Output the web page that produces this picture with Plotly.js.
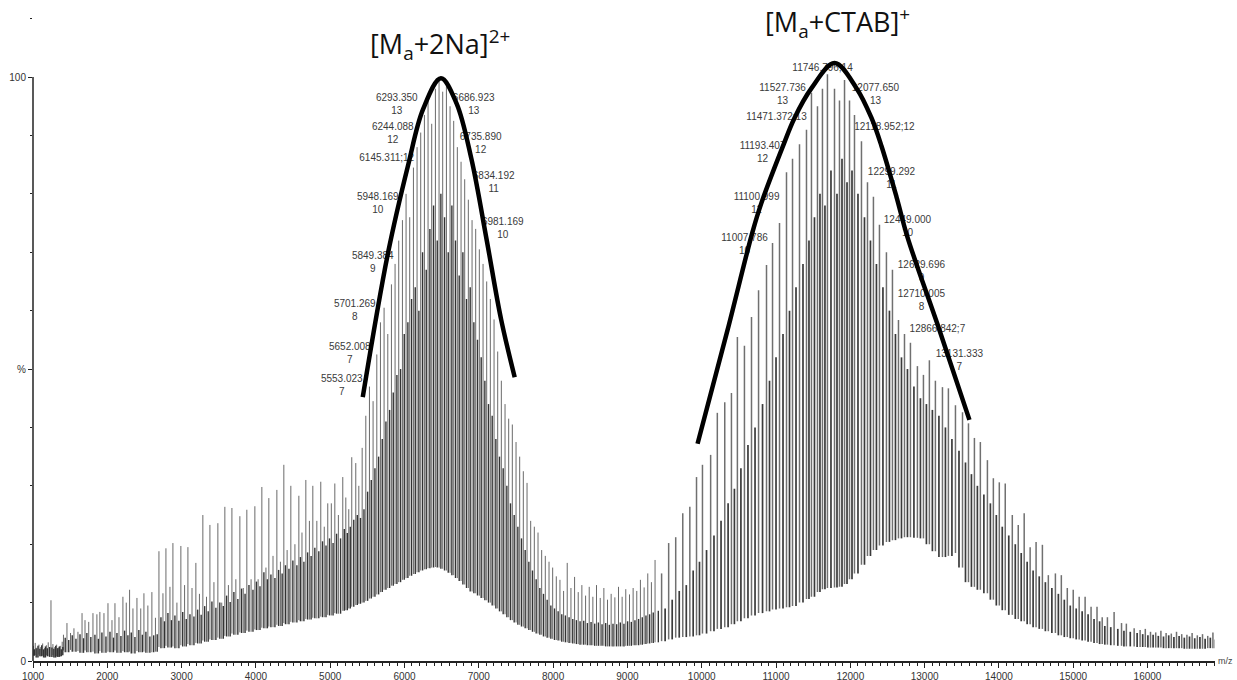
<!DOCTYPE html>
<html>
<head>
<meta charset="utf-8">
<script src="https://cdn.plot.ly/plotly-3.0.1.min.js"></script>
<style>html,body{margin:0;padding:0;background:#fff;}#chart{width:1237px;height:680px;}</style>
</head>
<body>
<div id="chart"></div>
<script>
// ---- spectrum data (m/z, tall stick top %, secondary stick top %, valley %) ----
const mzNoise   = [1005,1030,1055,1080,1105,1130,1155,1180,1205,1242,1268,1293,1318,1343,1368,1393];
const topNoise  = [2.6,3.1,2.3,2.8,2.4,3.0,2.2,2.7,3.2,10.4,2.9,2.4,2.8,2.3,2.6,3.3];
const darkNoise = [2.0,2.2,2.6,2.1,2.7,2.0,2.5,2.2,2.4,2.3,2.1,2.6,2.2,2.5,2.0,2.4];
const lowNoise  = [0.9,1.0,0.6,1.1,0.8,0.9,0.6,1.0,0.8,0.7,1.0,0.6,0.8,0.7,0.8,1.0];

const mzRiseA   = [1410,1457,1505,1551,1605,1660,1700,1750,1807,1860,1900,1955,2009,2063,2103,2157,2210,2255,2300,2345,2399,2450,2493,2546,2600,2648];
const topRiseA  = [4.5,6.5,4.8,5.6,5.0,8.2,7.0,6.7,8.2,8.0,8.4,8.2,9.9,7.0,9.9,7.5,11.0,10.0,12.2,9.0,10.8,9.0,11.6,9.5,11.8,7.4];
const darkRiseA = [4.0,3.6,4.4,3.8,4.6,3.9,4.8,4.1,4.5,3.8,4.9,4.2,5.0,4.0,4.8,4.3,5.2,4.4,4.9,4.1,5.3,4.5,5.0,4.2,4.4,4.6];
const lowRiseA  = [1.8,1.5,1.9,1.6,1.7,1.4,1.8,1.5,1.6,1.3,1.7,1.4,1.6,1.5,1.8,1.4,1.7,1.5,1.6,1.3,1.7,1.5,1.6,1.4,1.5,1.6];

const mzRiseB   = [2695,2749,2789,2843,2883,2937,2990,3040,3085,3140,3192,3240,3286,3335,3381,3435,3488,3540,3582,3630,3677,3730,3784,3830,3878,3935,3986,4030,4080,4135,4174,4230,4282,4330,4376,4420,4470,4525,4578,4620,4672,4720,4766,4820,4873,4920,4967,5015,5062,5110,5169,5210,5250,5290,5344,5385];
const topRiseB  = [18.8,11.6,19.3,12.7,20.2,10.0,19.7,13.0,19.5,12.5,16.8,11.5,25.0,11.0,23.3,13.5,23.6,10.0,26.4,13.0,26.2,14.0,24.8,12.5,25.9,14.0,26.5,14.0,29.8,16.0,27.9,18.0,29.3,17.0,33.6,19.0,30.0,20.0,28.3,22.0,31.0,24.0,30.0,24.0,30.7,23.0,27.0,27.0,30.4,25.0,31.5,28.0,26.0,34.9,33.9,30.0];
const darkRiseB = [7.5,6.8,8.2,7.0,7.8,6.9,8.4,7.2,8.0,7.6,8.8,7.9,9.4,8.5,10.2,9.1,10.0,9.4,11.2,10.1,11.8,10.6,12.4,11.5,13.0,12.2,13.6,12.8,15.2,14.0,14.8,14.2,15.6,15.0,16.4,15.8,17.2,16.4,17.8,17.0,18.6,18.0,19.4,18.8,20.5,19.8,21.0,20.2,21.8,21.0,22.6,21.9,23.0,24.2,25.0,24.5];
const lowRiseB  = [2.4,2.2,2.6,2.3,2.5,2.2,2.7,2.5,2.9,2.7,3.1,3.0,3.5,3.3,3.7,3.6,4.0,3.8,4.3,4.2,4.7,4.5,4.9,4.8,5.2,5.0,5.4,5.3,5.7,5.6,5.9,5.8,6.2,6.0,6.5,6.3,6.7,6.6,7.0,6.8,7.2,7.1,7.4,7.3,7.6,7.5,7.9,7.8,8.2,8.1,8.6,8.7,9.0,9.3,9.6,9.8];

const mzCore1   = [5430,5479,5528,5577,5627,5676,5725,5775,5824,5873,5922,5972,6021,6070,6120,6169,6218,6268,6317,6366,6416,6465,6514,6564,6613,6662,6711,6761,6810,6859,6909,6958,7007,7057,7106,7155,7205,7254,7303,7353,7402,7451,7501,7550,7599,7649,7698,7747,7797,7846,7895,7945,7994];
const topCore1  = [36.5,42.0,47.0,44.5,52.5,58.0,60.5,56.0,64.5,68.0,72.0,75.5,80.0,76.0,84.5,88.0,90.5,93.5,96.0,92.0,98.0,100.0,97.5,99.0,95.0,92.5,88.0,85.5,82.5,79.0,75.5,74.0,70.5,68.0,65.0,62.0,58.5,53.0,48.0,44.0,41.5,40.5,37.5,35.0,32.5,30.5,24.0,23.0,22.0,19.0,18.0,17.0,16.0];
const darkCore1 = [26,29,31,33,35,38,41,43,46,49,50,56,58,62,64,60,70,67,74,78,72,80,76,70,78,72,66,70,62,64,58,55,52,48,44,42,38,35,33,30,27,25,23,21,19,17,15.5,14,12.5,11.5,10.5,9.5,9.0];
const lowCore1  = [10.0,10.3,10.7,11.0,11.4,11.8,12.2,12.5,12.9,13.2,13.5,13.9,14.2,14.6,14.9,15.2,15.5,15.7,15.9,16.0,16.1,16.0,15.8,15.5,15.1,14.7,14.2,13.7,13.1,12.5,11.9,11.6,11.2,10.8,10.4,10.0,9.5,9.0,8.5,8.0,7.5,7.0,6.6,6.2,5.9,5.6,5.3,5.0,4.7,4.5,4.2,4.0,3.8];

const mzGap     = [8043,8092,8141,8190,8240,8289,8338,8387,8437,8486,8535,8584,8634,8683,8732,8781,8831,8880,8929,8978,9028,9077,9126,9175,9225,9274,9323,9372];
const topGap    = [14.5,13.9,12.0,16.8,12.5,14.4,11.8,13.0,11.2,12.7,11.0,13.0,10.8,12.5,10.5,11.5,10.9,12.7,11.0,12.3,11.4,12.5,12.0,13.9,12.6,15.0,13.5,17.3];
const darkGap   = [8.5,8.0,7.8,7.5,7.2,7.0,6.8,6.9,6.5,6.7,6.4,6.6,6.3,6.5,6.2,6.4,6.3,6.6,6.4,6.8,6.7,7.0,7.2,7.5,7.8,8.0,8.3,8.6];
const lowGap    = [3.6,3.5,3.3,3.2,3.1,3.0,2.9,2.8,2.8,2.7,2.7,2.6,2.6,2.6,2.5,2.5,2.5,2.5,2.5,2.6,2.6,2.7,2.7,2.8,2.9,3.0,3.1,3.2];

const mzCore2   = [9460,9555,9650,9745,9840,9930,10010,10120,10210,10310,10400,10480,10575,10670,10765,10872,10953,11047,11141,11222,11316,11410,11477,11558,11625,11692,11787,11854,11922,11989,12056,12150,12231,12311,12392,12486,12567,12648,12729,12809,12903,12984,13064,13145,13240,13320,13415,13510,13590,13670,13750,13845,13925,14005,14085,14180,14260,14340,14420,14500,14585,14665,14760,14840,14920,15000,15080,15160,15240,15320,15390,15460,15550,15650,15715,15820,15900,15970,16040,16110,16180,16250,16320,16390,16460,16530,16600,16670,16740,16810,16880];
const topCore2  = [15.0,20.2,21.2,25.3,26.4,31.5,33.6,35.3,42.5,44.3,45.9,55.5,54.0,58.9,63.5,67.8,71.6,75.0,83.7,86.0,88.5,91.0,97.3,95.0,98.0,100.5,98.0,96.0,99.5,96.0,93.5,89.0,82.0,79.5,74.7,70.0,67.0,58.4,56.0,54.5,50.5,49.0,51.5,48.0,46.9,46.7,43.8,42.6,40.7,38.2,37.5,34.4,31.3,30.6,30.4,25.0,23.3,25.3,19.5,20.4,19.9,14.7,15.0,14.7,12.5,12.2,11.0,11.0,9.3,9.3,7.5,7.5,8.4,6.5,6.4,5.6,5.3,5.5,5.0,4.9,5.2,4.8,4.7,5.0,4.6,4.5,4.8,4.4,4.6,4.3,4.9];
const darkCore2 = [9.0,10.5,12.0,13.0,15.5,17.0,19.0,21.5,24.0,27.0,29.5,33.0,37.0,40.0,44.0,48.0,52.0,56.0,60.0,64.0,68.0,72.0,76.0,80.0,78.0,84.0,80.0,86.0,82.0,84.0,80.0,76.0,72.0,68.0,64.0,60.0,56.0,52.0,50.0,47.0,45.0,44.0,43.0,42.0,40.0,38.0,36.0,34.0,32.0,30.0,28.5,27.0,25.0,23.0,21.5,20.0,18.5,17.0,15.5,14.5,13.5,12.5,11.5,10.5,9.5,9.0,8.5,8.0,7.2,6.8,6.0,5.8,5.5,5.2,5.0,4.8,4.6,4.4,4.5,4.3,4.2,4.4,4.1,4.3,4.0,4.2,3.9,4.1,3.8,4.0,3.7];
const lowCore2  = [3.4,3.7,4.0,4.1,4.2,4.4,4.7,5.1,5.5,5.8,6.3,6.8,7.3,7.8,8.2,8.5,8.8,9.0,9.2,9.4,10.0,10.6,11.0,11.8,12.3,12.5,12.6,12.7,13.2,14.0,15.0,16.5,18.0,19.0,19.8,20.4,20.7,21.0,21.2,21.2,21.1,21.0,20.0,18.8,17.8,18.0,18.5,16.0,13.5,12.7,12.2,11.6,10.5,9.5,8.7,7.9,7.2,6.8,6.3,5.8,5.5,5.1,4.8,4.4,4.1,3.9,3.7,3.5,3.3,3.1,2.9,2.8,2.7,2.6,2.5,2.5,2.4,2.4,2.3,2.3,2.3,2.2,2.2,2.2,2.2,2.1,2.1,2.1,2.1,2.2,2.2];

// ---- hand-drawn envelope arcs ----
const arc1Mz = [5438,5780,6050,6250,6490,6700,6900,7106,7300,7483];
const arc1Y  = [45.2,70.0,85.0,94.5,99.8,95.5,86.0,72.1,58.5,48.6];
const arc2Mz = [9944,10348,10684,10805,11088,11249,11478,11787,12083,12285,12419,12621,12769,13199,13603];
const arc2Y  = [37.2,56.7,73.5,78.5,88.0,93.0,98.1,102.4,98.1,93.0,88.2,79.5,72.6,56.7,41.3];

// ---- peak labels ----
const labelText = ['6293.350<br>13','6686.923<br>13','6244.088<br>12','6735.890<br>12','6145.311;12','6834.192<br>11','5948.169<br>10','6981.169<br>10','5849.384<br>9','5701.269<br>8','5652.008<br>7','5553.023<br>7',
  '11746.796;14','11527.736<br>13','12077.650<br>13','11471.372;13','12118.952;12','11193.407<br>12','12299.292<br>11','11100.999<br>11','12449.000<br>10','11007.786<br>10','12629.696<br>9','12710.005<br>8','12866.842;7','13131.333<br>7'];
const labelMz = [5896,6931,5842,7025,5761,7200,5640,7322,5573,5331,5264,5156,
  11626,11088,12338,11007,12459,10819,12554,10738,12769,10576,12957,12957,13172,13468];
const labelY  = [95.3,95.3,90.2,88.6,86.0,81.9,78.2,74.0,68.1,60.0,52.5,47.1,
  101.4,96.9,96.9,93.0,91.3,87.0,82.5,78.3,74.4,71.3,66.7,61.6,56.7,51.3];

// ---- assemble ----
const allMz   = [].concat(mzNoise, mzRiseA, mzRiseB, mzCore1, mzGap, mzCore2);
const allTop  = [].concat(topNoise, topRiseA, topRiseB, topCore1, topGap, topCore2);
const allDark = [].concat(darkNoise, darkRiseA, darkRiseB, darkCore1, darkGap, darkCore2);
const allLow  = [].concat(lowNoise, lowRiseA, lowRiseB, lowCore1, lowGap, lowCore2);
const env2Start = mzCore2[0];

const l1x = [], l1y = [], d1x = [], d1y = [], l2x = [], l2y = [], d2x = [], d2y = [];
for (let i = 0; i < allMz.length; i++) {
  const second = allMz[i] >= env2Start;
  const lx = second ? l2x : l1x, ly = second ? l2y : l1y, dx = second ? d2x : d1x, dy = second ? d2y : d1y;
  lx.push(allMz[i], allMz[i], null); ly.push(allLow[i], allTop[i], null);
  const gap = i < allMz.length - 1 ? allMz[i+1] - allMz[i] : allMz[i] - allMz[i-1];
  const xm = allMz[i] + gap / 2;
  const lowNext = i < allMz.length - 1 ? allLow[i+1] : allLow[i];
  dx.push(xm, xm, null); dy.push(Math.min(allLow[i], lowNext), allDark[i], null);
}

const traces = [
  { type:'scatter', mode:'text', x:labelMz, y:labelY, text:labelText, textposition:'middle center',
    textfont:{family:'Liberation Sans, Arial, sans-serif', size:10, color:'#3a3a3a'}, hoverinfo:'skip', cliponaxis:false },
  { type:'scatter', mode:'lines', x:l1x, y:l1y, line:{color:'#6a6a6a', width:1}, connectgaps:false, hoverinfo:'skip' },
  { type:'scatter', mode:'lines', x:d1x, y:d1y, line:{color:'#333', width:1.4}, connectgaps:false, hoverinfo:'skip' },
  { type:'scatter', mode:'lines', x:l2x, y:l2y, line:{color:'#707070', width:1.5}, connectgaps:false, hoverinfo:'skip' },
  { type:'scatter', mode:'lines', x:d2x, y:d2y, line:{color:'#3a3a3a', width:1.7}, connectgaps:false, hoverinfo:'skip' },
  { type:'scatter', mode:'lines', x:arc1Mz, y:arc1Y, line:{color:'#000', width:4.5, shape:'spline', smoothing:1}, hoverinfo:'skip' },
  { type:'scatter', mode:'lines', x:arc2Mz, y:arc2Y, line:{color:'#000', width:4.5, shape:'spline', smoothing:1}, hoverinfo:'skip' }
];

const axisFont = {family:'Liberation Sans, Arial, sans-serif', size:10, color:'#333'};
const layout = {
  width:1237, height:680,
  margin:{l:33, r:22, t:0, b:19},
  paper_bgcolor:'#fff', plot_bgcolor:'#fff',
  showlegend:false,
  xaxis:{range:[1000,16908], tickmode:'linear', tick0:1000, dtick:1000, tickformat:'d', ticks:'outside', ticklen:5, tickwidth:1, tickcolor:'#222',
    showline:true, linecolor:'#222', linewidth:1.5, showgrid:false, zeroline:false, tickfont:axisFont,
    minor:{tickmode:'linear', tick0:1000, dtick:100, ticks:'outside', ticklen:3, tickwidth:1, tickcolor:'#222', showgrid:false}},
  yaxis:{range:[0,113.2], tickmode:'array', tickvals:[0,50,100], ticktext:['0','%','100'], ticks:'outside', ticklen:4, tickwidth:1, tickcolor:'#222',
    showline:false, showgrid:false, zeroline:false, tickfont:axisFont,
    minor:{tickmode:'linear', tick0:0, dtick:10, ticks:'outside', ticklen:2, tickwidth:1, tickcolor:'#222', showgrid:false}},
  shapes:[
    {type:'line', xref:'paper', yref:'y', x0:0, x1:0, y0:0, y1:100, line:{color:'#222', width:1.5}, layer:'above'}
  ],
  annotations:[
    {xref:'x', yref:'y', x:6474, y:105.5, text:'[M<sub>a</sub>+2Na]<sup>2+</sup>', showarrow:false, xanchor:'center', yanchor:'middle',
     font:{family:'Open Sans, Noto Sans, sans-serif', size:27, color:'#111'}},
    {xref:'x', yref:'y', x:11827, y:109.4, text:'[M<sub>a</sub>+CTAB]<sup>+</sup>', showarrow:false, xanchor:'center', yanchor:'middle',
     font:{family:'Open Sans, Noto Sans, sans-serif', size:27, color:'#111'}},
    {xref:'paper', yref:'paper', x:1.0085, y:0, text:'m/z', showarrow:false, xanchor:'center', yanchor:'middle',
     font:{family:'Liberation Sans, Arial, sans-serif', size:9, color:'#444'}}
  ]
};

Plotly.newPlot('chart', traces, layout, {staticPlot:true, displayModeBar:false});
</script>
</body>
</html>
